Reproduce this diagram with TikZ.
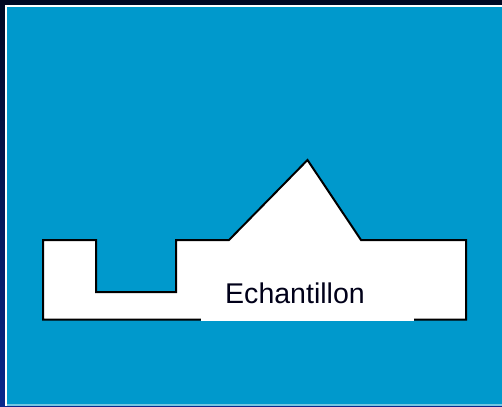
\documentclass[tikz,border=0pt]{standalone}
\usepackage{fontspec}
\setmainfont{Liberation Sans}
\definecolor{fond}{RGB}{0,153,204}
\definecolor{navyhaut}{RGB}{0,8,34}
\definecolor{navybas}{RGB}{8,40,140}
\tikzset{
  contour/.style={line width=1.5pt,line join=miter,fill=white},
  etiquette/.style={font=\fontsize{21.4}{25}\selectfont,inner sep=0pt,text=black!90!blue}
}
\begin{document}
\begin{tikzpicture}[x=0.75pt,y=-0.75pt]
  \useasboundingbox (0,0) rectangle (502,406);
  % cadre
  \shade[top color=navyhaut,bottom color=navybas] (0,0) rectangle (502,406);
  \fill[white] (5,5) rectangle (502,406);
  \fill[fond] (7,7) rectangle (502,406);
  \draw[fond!55!white,line width=1pt] (7,405) -- (502,405);
  % echantillon
  \draw[contour] (43,240) -| (96,292) -| (176,240) -- (229,240) -- (307.5,160)
    -- (361,240) -| (466,319.5) -- (43,319.5) -- cycle;
  \fill[white] (201,270) rectangle (414,320.8);
  \node[etiquette,anchor=base] (ech) at (295,303.3) {Echantillon};
\end{tikzpicture}
\end{document}
